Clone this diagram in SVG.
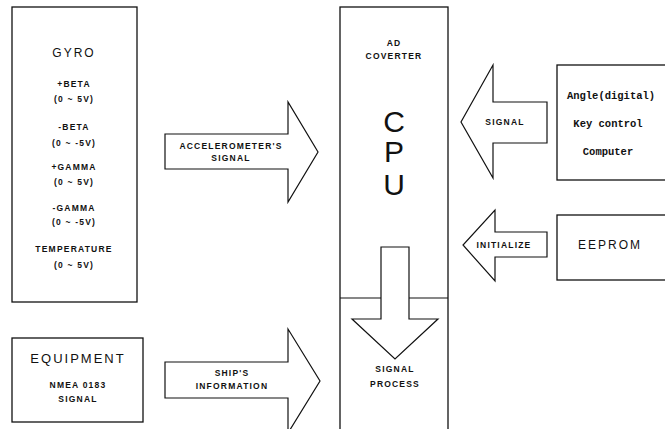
<svg xmlns="http://www.w3.org/2000/svg" width="665" height="429" viewBox="0 0 665 429">
<defs>
<style>
.box{fill:#fff;stroke:#111;stroke-width:1.3}
.arr{fill:#fff;stroke:#111;stroke-width:1.2;stroke-linejoin:miter}
.ln{fill:none;stroke:#111;stroke-width:1.2}
.t{font-family:"Liberation Sans",Arial,sans-serif;font-size:8.5px;font-weight:bold;fill:#111;text-anchor:middle;letter-spacing:1.2px}
.m{font-family:"Liberation Mono","Courier New",monospace;font-size:10.5px;font-weight:bold;fill:#111;text-anchor:middle}
.big{font-family:"Liberation Sans",Arial,sans-serif;font-weight:normal;fill:#111;text-anchor:middle}
</style>
</defs>
<rect width="665" height="429" fill="#fff"/>
<g id="gyro">
<rect class="box" x="12" y="7" width="125" height="295"/>
<text class="big" x="74" y="57" font-size="12" letter-spacing="2">GYRO</text>
<text class="t" x="74" y="87">+BETA</text>
<text class="t" x="74" y="102">(0 ~ 5V)</text>
<text class="t" x="74" y="130">-BETA</text>
<text class="t" x="74" y="146">(0 ~ -5V)</text>
<text class="t" x="74" y="170">+GAMMA</text>
<text class="t" x="74" y="185">(0 ~ 5V)</text>
<text class="t" x="74" y="211">-GAMMA</text>
<text class="t" x="74" y="225">(0 ~ -5V)</text>
<text class="t" x="74" y="252">TEMPERATURE</text>
<text class="t" x="74" y="268">(0 ~ 5V)</text>
</g>
<g id="equipment">
<rect class="box" x="12" y="338" width="131" height="84"/>
<text class="big" x="78" y="363" font-size="13" letter-spacing="2">EQUIPMENT</text>
<text class="t" x="78" y="388">NMEA 0183</text>
<text class="t" x="78" y="402">SIGNAL</text>
</g>
<g id="cpu">
<rect class="box" x="340" y="7" width="108" height="430"/>
<line class="ln" x1="340" y1="298" x2="448" y2="298"/>
<text class="t" x="394" y="46">AD</text>
<text class="t" x="394" y="59">COVERTER</text>
<text class="big" x="394" y="132" font-size="30">C</text>
<text class="big" x="394" y="162" font-size="30">P</text>
<text class="big" x="394" y="195" font-size="30">U</text>
<text class="t" x="395" y="372">SIGNAL</text>
<text class="t" x="395" y="387">PROCESS</text>
</g>
<g id="angle">
<rect class="box" x="557" y="65" width="120" height="115"/>
<text class="m" x="611" y="99">Angle(digital)</text>
<text class="m" x="608" y="127">Key control</text>
<text class="m" x="608" y="155">Computer</text>
</g>
<g id="eeprom">
<rect class="box" x="557" y="215" width="120" height="65"/>
<text class="big" x="610" y="249" font-size="12" letter-spacing="2">EEPROM</text>
</g>
<g id="connectors">
<polygon class="arr" points="165,134 288,134 288,102 318,152 288,202 288,169 165,169"/>
<text class="t" x="231" y="149">ACCELEROMETER'S</text>
<text class="t" x="231" y="161">SIGNAL</text>
<polygon class="arr" points="165,362 288,362 288,329 320,381 288,433 288,398 165,398"/>
<text class="t" x="232" y="376">SHIP'S</text>
<text class="t" x="232" y="389">INFORMATION</text>
<polygon class="arr" points="547,102 493,102 493,65 461,122 493,178 493,143 547,143"/>
<text class="t" x="505" y="125">SIGNAL</text>
<polygon class="arr" points="547,232 495,232 495,210 463,245 495,281 495,257 547,257"/>
<text class="t" x="504" y="248" font-size="7.5" letter-spacing="0.8">INITIALIZE</text>
<polygon class="arr" points="381,247 409,247 409,319 438,319 395,359 352,319 381,319"/>
</g>
</svg>
